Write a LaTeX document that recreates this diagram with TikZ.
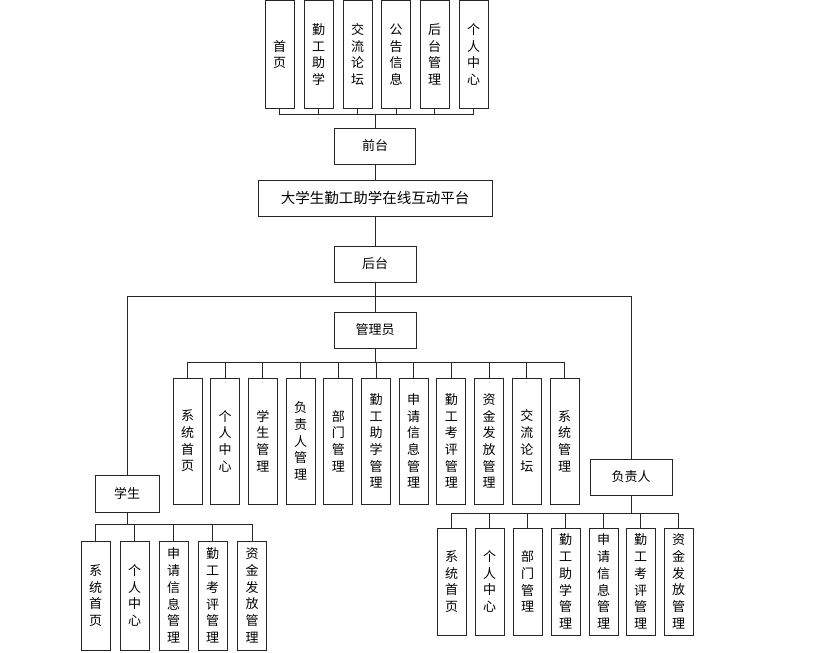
\documentclass[tikz,border=0pt]{standalone}
\usepackage{fontspec}
\setmainfont{Noto Sans CJK SC}
\begin{document}
\begin{tikzpicture}[x=1pt,y=-1pt,
  line width=0.9pt, draw=black!85,
  box/.style={draw=black!85, line width=0.9pt, inner sep=0pt, align=center,
    font=\fontsize{13}{16.7}\selectfont},
  vbox/.style={box, minimum width=29pt},
  hbox/.style={box, minimum width=82pt, minimum height=36pt},
  conn/.style={draw=black!85, line width=0.9pt}
]
\useasboundingbox (0,0) rectangle (814,653);
% top row
\node[vbox, minimum height=108pt] (t1) at (279.5,54.5) {首\\页};
\node[vbox, minimum height=108pt] (t2) at (318.5,54.5) {勤\\工\\助\\学};
\node[vbox, minimum height=108pt] (t3) at (357.5,54.5) {交\\流\\论\\坛};
\node[vbox, minimum height=108pt] (t4) at (396,54.5) {公\\告\\信\\息};
\node[vbox, minimum height=108pt] (t5) at (434.5,54.5) {后\\台\\管\\理};
\node[vbox, minimum height=108pt] (t6) at (473.5,54.5) {个\\人\\中\\心};
\node[hbox, minimum width=81pt] (front) at (375,146) {前台};
\node[box, minimum width=234pt, minimum height=36pt, font=\fontsize{14.5}{17}\selectfont] (main) at (375,198) {大学生勤工助学在线互动平台};
\node[hbox] (back) at (375,264) {后台};
\node[hbox] (admin) at (375,330) {管理员};
\node[hbox, minimum width=64pt, minimum height=37pt] (stu) at (127,493.5) {学生};
\node[hbox] (resp) at (631,477) {负责人};
% admin children
\node[vbox, minimum height=126pt] (a1) at (187.5,441) {系\\统\\首\\页};
\node[vbox, minimum height=126pt] (a2) at (225.2,441) {个\\人\\中\\心};
\node[vbox, minimum height=126pt] (a3) at (262.9,441) {学\\生\\管\\理};
\node[vbox, minimum height=126pt] (a4) at (300.6,441) {负\\责\\人\\管\\理};
\node[vbox, minimum height=126pt] (a5) at (338.3,441) {部\\门\\管\\理};
\node[vbox, minimum height=126pt] (a6) at (376,441) {勤\\工\\助\\学\\管\\理};
\node[vbox, minimum height=126pt] (a7) at (413.7,441) {申\\请\\信\\息\\管\\理};
\node[vbox, minimum height=126pt] (a8) at (451.4,441) {勤\\工\\考\\评\\管\\理};
\node[vbox, minimum height=126pt] (a9) at (489.1,441) {资\\金\\发\\放\\管\\理};
\node[vbox, minimum height=126pt] (a10) at (526.8,441) {交\\流\\论\\坛};
\node[vbox, minimum height=126pt] (a11) at (564.5,441) {系\\统\\管\\理};
% student children
\node[vbox, minimum height=109pt] (s1) at (95.5,595.5) {系\\统\\首\\页};
\node[vbox, minimum height=109pt] (s2) at (134.5,595.5) {个\\人\\中\\心};
\node[vbox, minimum height=109pt] (s3) at (173.5,595.5) {申\\请\\信\\息\\管\\理};
\node[vbox, minimum height=109pt] (s4) at (212.5,595.5) {勤\\工\\考\\评\\管\\理};
\node[vbox, minimum height=109pt] (s5) at (252,595.5) {资\\金\\发\\放\\管\\理};
% responsible children
\node[vbox, minimum height=107pt] (r1) at (451.5,581.5) {系\\统\\首\\页};
\node[vbox, minimum height=107pt] (r2) at (489.5,581.5) {个\\人\\中\\心};
\node[vbox, minimum height=107pt] (r3) at (527.5,581.5) {部\\门\\管\\理};
\node[vbox, minimum height=107pt] (r4) at (565.5,581.5) {勤\\工\\助\\学\\管\\理};
\node[vbox, minimum height=107pt] (r5) at (603.5,581.5) {申\\请\\信\\息\\管\\理};
\node[vbox, minimum height=107pt] (r6) at (640.5,581.5) {勤\\工\\考\\评\\管\\理};
\node[vbox, minimum height=107pt] (r7) at (678.5,581.5) {资\\金\\发\\放\\管\\理};
% connectors
\foreach \n in {t1,t2,t3,t4,t5,t6}
  \draw[conn] (front.north) -- ++(0,-13) -| (\n.south);
\draw[conn] (front.south) -- (main.north);
\draw[conn] (main.south) -- (back.north);
\draw[conn] (back.south) -- (admin.north);
\draw[conn] (back.south) -- ++(0,14) -| (stu.north);
\draw[conn] (back.south) -- ++(0,14) -| (resp.north);
\foreach \n in {a1,a2,a3,a4,a5,a6,a7,a8,a9,a10,a11}
  \draw[conn] (admin.south) -- ++(0,14) -| (\n.north);
\foreach \n in {s1,s2,s3,s4,s5}
  \draw[conn] (stu.south) -- ++(0,12) -| (\n.north);
\foreach \n in {r1,r2,r3,r4,r5,r6,r7}
  \draw[conn] (resp.south) -- ++(0,18) -| (\n.north);
\end{tikzpicture}
\end{document}
